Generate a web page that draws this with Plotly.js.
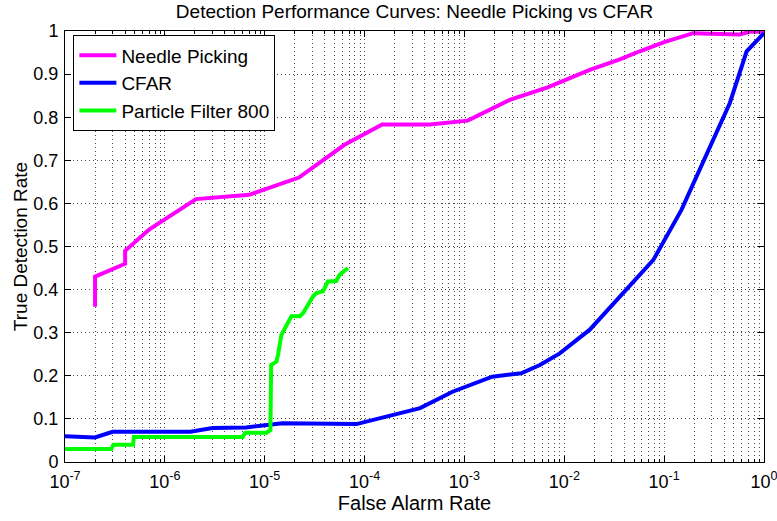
<!DOCTYPE html>
<html>
<head>
<meta charset="utf-8">
<script src="https://cdn.plot.ly/plotly-3.0.1.min.js"></script>
<style>html,body{margin:0;padding:0;background:#fff;}#chart{width:777px;height:521px;}</style>
</head>
<body>
<div id="chart"></div>
<script>
// ---- data ----
const needleX = [2e-7, 2e-7, 4e-7, 4e-7, 7e-7, 2.05e-6, 7e-6, 2.2e-5, 6.3e-5, 1.5e-4, 4.5e-4, 1.08e-3, 2.84e-3, 6.8e-3, 1.8e-2, 3.6e-2, 5.7e-2, 0.1, 0.195, 0.57, 0.72, 1];
const needleY = [0.36, 0.43, 0.46, 0.49, 0.54, 0.61, 0.62, 0.66, 0.736, 0.783, 0.783, 0.792, 0.84, 0.869, 0.91, 0.934, 0.953, 0.974, 0.995, 0.992, 0.998, 0.998];

const cfarX = [1e-7, 2e-7, 3e-7, 1.8e-6, 3e-6, 6.5e-6, 1.5e-5, 8.3e-5, 3.6e-4, 7.6e-4, 1.9e-3, 3.7e-3, 5.7e-3, 9e-3, 1.8e-2, 3.9e-2, 7.8e-2, 0.149, 0.455, 0.67, 1];
const cfarY = [0.06, 0.057, 0.07, 0.07, 0.079, 0.08, 0.09, 0.088, 0.125, 0.163, 0.198, 0.206, 0.225, 0.252, 0.307, 0.392, 0.469, 0.585, 0.833, 0.953, 0.995];

const pfX = [1e-7, 2.9e-7, 3.05e-7, 4.8e-7, 4.9e-7, 6e-6, 6.4e-6, 1.04e-5, 1.14e-5, 1.16e-5, 1.31e-5, 1.36e-5, 1.47e-5, 1.58e-5, 1.85e-5, 2.24e-5, 2.42e-5, 3.04e-5, 3.29e-5, 3.83e-5, 4.3e-5, 5.2e-5, 5.6e-5, 6.8e-5];
const pfY = [0.03, 0.03, 0.04, 0.04, 0.058, 0.058, 0.068, 0.068, 0.074, 0.225, 0.233, 0.249, 0.295, 0.31, 0.338, 0.338, 0.345, 0.384, 0.392, 0.396, 0.419, 0.42, 0.434, 0.45];

const seriesNames = ["Needle Picking", "CFAR", "Particle Filter 800"];
const xTickVals = [1e-7, 1e-6, 1e-5, 1e-4, 1e-3, 1e-2, 1e-1, 1];
const xTickText = ["10<sup>-7</sup>", "10<sup>-6</sup>", "10<sup>-5</sup>", "10<sup>-4</sup>", "10<sup>-3</sup>", "10<sup>-2</sup>", "10<sup>-1</sup>", "10<sup>0</sup>"];
const yTickVals = [0, 0.1, 0.2, 0.3, 0.4, 0.5, 0.6, 0.7, 0.8, 0.9, 1];
const yTickText = ["0", "0.1", "0.2", "0.3", "0.4", "0.5", "0.6", "0.7", "0.8", "0.9", "1"];

// minor (2..9 per decade) tick positions for the log axis
const minorVals = [];
for (let e = -7; e < 0; e++) for (let m = 2; m <= 9; m++) minorVals.push(m * Math.pow(10, e));

const FONT = "'Liberation Sans', Arial, sans-serif";
const gridDash = "1px,3px";
const gridColor = "#4a4a4a";

const traces = [
  {x: needleX, y: needleY, name: seriesNames[0], mode: "lines", line: {color: "#ff00ff", width: 4}},
  {x: cfarX, y: cfarY, name: seriesNames[1], mode: "lines", line: {color: "#0000ff", width: 4}},
  {x: pfX, y: pfY, name: seriesNames[2], mode: "lines", line: {color: "#00ff00", width: 4}}
];

const layout = {
  width: 777, height: 521, autosize: false,
  paper_bgcolor: "#fff", plot_bgcolor: "#fff",
  margin: {l: 65, r: 13, t: 31, b: 59, pad: 0},
  font: {family: FONT, color: "#000", size: 17},
  title: {text: "Detection Performance Curves: Needle Picking vs CFAR", font: {family: FONT, size: 19, color: "#000"},
          x: 0.5, xref: "paper", xanchor: "center", y: 0.979, yref: "container", yanchor: "middle"},
  showlegend: true,
  legend: {x: 0.012, y: 0.99, xanchor: "left", yanchor: "top", bgcolor: "#fff", bordercolor: "#000", borderwidth: 1,
           font: {family: FONT, size: 19, color: "#000"}, tracegroupgap: 0, itemwidth: 37},
  xaxis: {
    type: "log", range: [-7, 0], autorange: false,
    tickmode: "array", tickvals: xTickVals, ticktext: xTickText,
    ticks: "inside", ticklen: 6, tickcolor: "#000", tickwidth: 1,
    showline: true, linecolor: "#000", linewidth: 1, mirror: "ticks",
    showgrid: true, gridcolor: gridColor, griddash: gridDash, gridwidth: 1,
    zeroline: false,
    tickfont: {family: FONT, size: 18, color: "#000"},
    ticklabeloverflow: "allow",
    ticklabelstandoff: 3,
    minor: {tickmode: "array", tickvals: minorVals, ticks: "inside", ticklen: 3, tickcolor: "#000",
            showgrid: true, gridcolor: gridColor, griddash: gridDash, gridwidth: 1},
    title: {text: "False Alarm Rate", font: {family: FONT, size: 20, color: "#000"}, standoff: 2}
  },
  yaxis: {
    range: [0, 1], autorange: false,
    tickmode: "array", tickvals: yTickVals, ticktext: yTickText,
    ticks: "inside", ticklen: 6, tickcolor: "#000", tickwidth: 1,
    showline: true, linecolor: "#000", linewidth: 1, mirror: "ticks",
    showgrid: true, gridcolor: gridColor, griddash: gridDash, gridwidth: 1,
    zeroline: false,
    tickfont: {family: FONT, size: 18, color: "#000"},
    ticklabelstandoff: 2,
    title: {text: "True Detection Rate", font: {family: FONT, size: 19, color: "#000"}, standoff: 0}
  }
};

Plotly.newPlot("chart", traces, layout, {displayModeBar: false, staticPlot: true});
</script>
</body>
</html>
